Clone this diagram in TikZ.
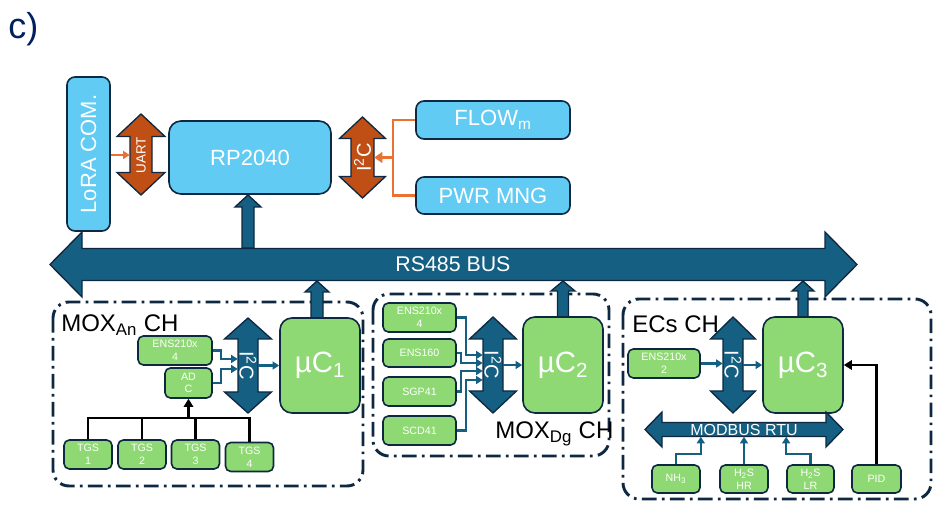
\documentclass[tikz,border=0pt]{standalone}
\usepackage{fontspec}
\setmainfont{Liberation Sans}
\usepackage{graphicx}
\usetikzlibrary{arrows.meta}
\definecolor{dkline}{RGB}{14,40,65}
\definecolor{busblue}{RGB}{21,96,130}
\definecolor{skyfill}{RGB}{97,203,243}
\definecolor{leaf}{RGB}{142,217,115}
\definecolor{rust}{RGB}{192,79,21}
\definecolor{tang}{RGB}{233,113,50}
\definecolor{navy}{RGB}{0,32,96}
% vertical double block arrow: style, x, y top, y bottom, head half, shaft half, head length
\newcommand{\vbiarrow}[7]{\filldraw[#1] (#2,#3) -- (#2+#5,#3+#7) -- (#2+#6,#3+#7) -- (#2+#6,#4-#7) -- (#2+#5,#4-#7) -- (#2,#4) -- (#2-#5,#4-#7) -- (#2-#6,#4-#7) -- (#2-#6,#3+#7) -- (#2-#5,#3+#7) -- cycle;}
% horizontal double block arrow: style, y, x left, x right, head half, shaft half, head length
\newcommand{\hbiarrow}[7]{\filldraw[#1] (#3,#2) -- (#3+#7,#2-#5) -- (#3+#7,#2-#6) -- (#4-#7,#2-#6) -- (#4-#7,#2-#5) -- (#4,#2) -- (#4-#7,#2+#5) -- (#4-#7,#2+#6) -- (#3+#7,#2+#6) -- (#3+#7,#2+#5) -- cycle;}
% single block arrow pointing up: x, y tip, y base, head half, shaft half, head length
\newcommand{\upblock}[6]{\filldraw[blueblock] (#1,#2) -- (#1+#4,#2+#6) -- (#1+#5,#2+#6) -- (#1+#5,#3) -- (#1-#5,#3) -- (#1-#5,#2+#6) -- (#1-#4,#2+#6) -- cycle;}
\tikzset{
  skybox/.style={draw=dkline, line width=1.2pt, fill=skyfill, rounded corners=6pt, inner sep=0pt, text=white, font=\fontsize{16.5}{18}\selectfont},
  leafbox/.style={draw=dkline, line width=1.2pt, fill=leaf, rounded corners=4pt, inner sep=0pt, text=white, align=center, font=\fontsize{8}{9.5}\selectfont},
  mcu/.style={leafbox, rounded corners=9pt, minimum width=60pt, minimum height=72pt, font=\fontsize{22}{24}\selectfont},
  chframe/.style={draw=dkline, line width=2.2pt, rounded corners=12pt, dash pattern=on 11pt off 4pt on 2pt off 4pt},
  rustblock/.style={fill=rust, draw=dkline, line width=1pt},
  blueblock/.style={fill=busblue, draw=dkline, line width=1pt},
  shaftlbl/.style={inner sep=0pt, text=white},
  chlbl/.style={inner sep=0pt, anchor=base west, font=\fontsize{18}{20}\selectfont},
  bluelink/.style={draw=busblue, line width=1.6pt, -{Triangle[length=5pt,width=6pt]}},
  blacklink/.style={draw=black, line width=1.8pt},
  orangelink/.style={draw=tang, line width=1.8pt}
}
\begin{document}
\begin{tikzpicture}[x=0.75pt,y=-0.75pt]
\useasboundingbox (0,0) rectangle (951,516);
\node[text=navy, anchor=base west, inner sep=0pt, font=\fontsize{27}{30}\selectfont] (tag) at (8,39) {c)};

% channel frames
\draw[chframe] (53,302) rectangle (363,486);
\draw[chframe] (373,294) rectangle (609,456);
\draw[chframe] (623,299) rectangle (931,499);

% RS485 bus and block arrows
\hbiarrow{blueblock}{264.5}{50}{857}{32.5}{16}{32}
\node[shaftlbl, font=\fontsize{16}{18}\selectfont] (rs) at (453,264.5) {RS485 BUS};
\upblock{248}{195}{248}{13}{6}{12}
\upblock{317}{281}{318}{12}{6}{11}
\upblock{563}{281}{317}{12}{5.5}{10}
\upblock{803}{281}{317}{11}{5}{10}

% top section
\node[skybox, minimum width=32.25pt, minimum height=115.5pt] (lora) at (88.5,154) {\rotatebox{90}{LoRA COM.}};
\node[skybox, rounded corners=9pt, minimum width=121.5pt, minimum height=54.75pt] (rp) at (250,157.5) {RP2040};
\node[skybox, minimum width=115.5pt, minimum height=28.5pt] (flow) at (493,120) {FLOW\textsubscript{m}};
\node[skybox, minimum width=115.5pt, minimum height=27.75pt] (pwr) at (493,195.5) {PWR MNG};
\vbiarrow{rustblock}{141}{114}{195}{24}{11}{22.5}
\node[shaftlbl, minimum width=16.5pt, minimum height=27pt, font=\fontsize{10}{12}\selectfont] (uart) at (141,155) {\rotatebox{90}{UART}};
\vbiarrow{rustblock}{362.5}{117}{198}{23}{11.5}{21.5}
\node[shaftlbl, minimum width=17.25pt, minimum height=27pt, font=\fontsize{15}{17}\selectfont] (i2ct) at (362.5,157.5) {\rotatebox{90}{I\textsuperscript{2}C}};
\coordinate (fork) at (394,157.5);
\draw[orangelink, -{Triangle[length=5pt,width=6pt]}] (lora.east |- uart.west) -- (uart.west);
\draw[orangelink] (flow.west) -- ++(-22,0) |- (pwr.west);
\draw[orangelink, -{Triangle[length=6pt,width=8pt]}] (fork) -- (i2ct.east);

% MOX analog channel
\node[chlbl] (anlbl) at (61,332) {MOX\textsubscript{An} CH};
\node[leafbox, minimum width=55.5pt, minimum height=21.75pt] (ens1) at (175,350.5) {ENS210x\\4};
\node[leafbox, minimum width=35.25pt, minimum height=22.5pt] (adc) at (188.5,383) {AD\\C};
\node[leafbox, minimum width=36pt, minimum height=21.75pt] (tgs1) at (88,454.5) {TGS\\1};
\node[leafbox, minimum width=36pt, minimum height=21.75pt] (tgs2) at (142,454.5) {TGS\\2};
\node[leafbox, minimum width=36pt, minimum height=21.75pt] (tgs3) at (195.5,454.5) {TGS\\3};
\node[leafbox, minimum width=36pt, minimum height=21.75pt] (tgs4) at (249.5,457) {TGS\\4};
\node[mcu, minimum height=71.25pt] (uc1) at (320,365.5) {µC\textsubscript{1}};
\vbiarrow{blueblock}{248}{318}{413}{23.5}{10}{21}
\node[shaftlbl, minimum width=15pt, minimum height=39.75pt, font=\fontsize{15}{17}\selectfont] (i2ca) at (248,365.5) {\rotatebox{-90}{I\textsuperscript{2}C}};
\draw[bluelink] (ens1.east) -- ++(8,0) |- ([yshift=4.9pt]i2ca.west);
\draw[bluelink] (adc.east) -- ++(8,0) |- ([yshift=-2.6pt]i2ca.west);
\draw[bluelink] (i2ca.east) -- (uc1.west);
\coordinate (tgsbar) at (188.5,418);
\draw[blacklink] (tgs1.north) |- (tgs4.north |- tgsbar) -- (tgs4.north);
\draw[blacklink] (tgs2.north) -- (tgs2.north |- tgsbar);
\draw[blacklink] (tgs3.north) -- (tgs3.north |- tgsbar);
\draw[blacklink, -{Triangle[length=6pt,width=7pt]}] (tgsbar) -- (adc.south);

% MOX digital channel
\node[leafbox, minimum width=54.75pt, minimum height=21.75pt] (ens2) at (419.5,317.5) {ENS210x\\4};
\node[leafbox, minimum width=54.75pt, minimum height=21pt] (ens160) at (419.5,353) {ENS160};
\node[leafbox, minimum width=54.75pt, minimum height=21.75pt] (sgp) at (419.5,391.5) {SGP41};
\node[leafbox, minimum width=54.75pt, minimum height=21.75pt] (scd) at (419.5,430.5) {SCD41};
\node[mcu] (uc2) at (563,365) {µC\textsubscript{2}};
\vbiarrow{blueblock}{493}{317}{413}{23.5}{10}{22}
\node[shaftlbl, minimum width=15pt, minimum height=39pt, font=\fontsize{15}{17}\selectfont] (i2cb) at (493,365) {\rotatebox{-90}{I\textsuperscript{2}C}};
\draw[bluelink] (ens2.east) -- ++(9,0) |- ([yshift=7.5pt]i2cb.west);
\draw[bluelink] (ens160.east) -- ++(4,0) |- ([yshift=1.5pt]i2cb.west);
\draw[bluelink] (sgp.east) -- ++(4,0) |- ([yshift=-4.5pt]i2cb.west);
\draw[bluelink] (scd.east) -- ++(9,0) |- ([yshift=-11.25pt]i2cb.west);
\draw[bluelink] (i2cb.east) -- (uc2.west);
\node[chlbl] (dglbl) at (495,439) {MOX\textsubscript{Dg} CH};

% electrochemical channel
\node[chlbl] (eclbl) at (632,333) {ECs CH};
\node[leafbox, minimum width=54pt, minimum height=21.75pt] (ens3) at (664,363.5) {ENS210x\\2};
\node[mcu] (uc3) at (803,365) {µC\textsubscript{3}};
\vbiarrow{blueblock}{733}{317}{413}{22.5}{10}{22}
\node[shaftlbl, minimum width=15pt, minimum height=39pt, font=\fontsize{15}{17}\selectfont] (i2cc) at (733,365) {\rotatebox{-90}{I\textsuperscript{2}C}};
\draw[bluelink] (ens3.east) -- (ens3.east -| i2cc.west);
\draw[bluelink] (i2cc.east) -- (uc3.west);
\hbiarrow{blueblock}{429.5}{645}{843}{17.5}{7}{17}
\node[shaftlbl, minimum width=120pt, minimum height=10.5pt, font=\fontsize{12}{14}\selectfont] (mb) at (744,429.5) {MODBUS RTU};
\node[leafbox, minimum width=36pt, minimum height=21pt] (nh3) at (676,479) {NH\textsubscript{3}};
\node[leafbox, minimum width=36pt, minimum height=21pt] (h2shr) at (744,479) {H\textsubscript{2}S\\HR};
\node[leafbox, minimum width=35.25pt, minimum height=21pt] (h2slr) at (810.5,479) {H\textsubscript{2}S\\LR};
\node[leafbox, minimum width=36.75pt, minimum height=21pt] (pid) at (876.5,479) {PID};
\draw[bluelink] (nh3.north) -- ++(0,-10) -| (mb.south -| nh3.east);
\draw[bluelink] (h2shr.north) -- (h2shr.north |- mb.south);
\draw[bluelink] (h2slr.north) -- ++(0,-10) -| (mb.south -| h2slr.west);
\draw[blacklink, -{Triangle[length=6pt,width=7pt]}] (pid.north) |- (uc3.east);
\end{tikzpicture}
\end{document}
